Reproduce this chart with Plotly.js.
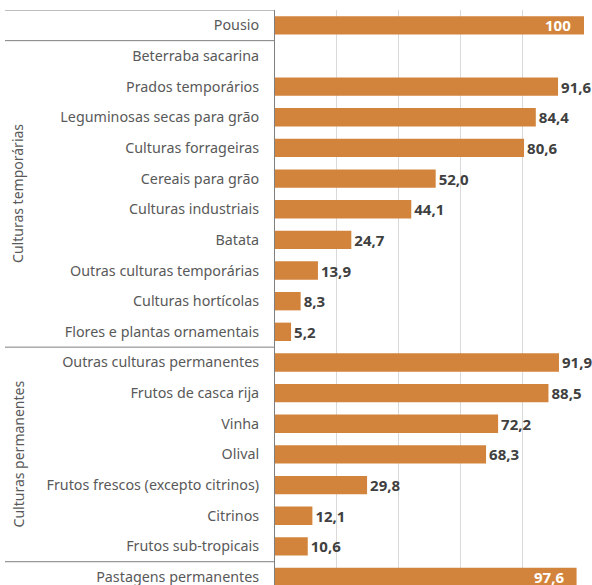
<!DOCTYPE html>
<html>
<head>
<meta charset="utf-8">
<script src="https://cdn.plot.ly/plotly-3.0.1.min.js"></script>
<style>html,body{margin:0;padding:0;background:#fff;}#chart{width:592px;height:585px;}</style>
</head>
<body>
<div id="chart"></div>
<script>
const categories = [
  "Pousio",
  "Beterraba sacarina",
  "Prados temporários",
  "Leguminosas secas para grão",
  "Culturas forrageiras",
  "Cereais para grão",
  "Culturas industriais",
  "Batata",
  "Outras culturas temporárias",
  "Culturas hortícolas",
  "Flores e plantas ornamentais",
  "Outras culturas permanentes",
  "Frutos de casca rija",
  "Vinha",
  "Olival",
  "Frutos frescos (excepto citrinos)",
  "Citrinos",
  "Frutos sub-tropicais",
  "Pastagens permanentes"
];
const values = [100, null, 91.6, 84.4, 80.6, 52.0, 44.1, 24.7, 13.9, 8.3, 5.2, 91.9, 88.5, 72.2, 68.3, 29.8, 12.1, 10.6, 97.6];
const labels = ["100", "", "91,6", "84,4", "80,6", "52,0", "44,1", "24,7", "13,9", "8,3", "5,2", "91,9", "88,5", "72,2", "68,3", "29,8", "12,1", "10,6", "97,6"];
const groupNames = ["", "Culturas temporárias", "Culturas permanentes", ""];
const groupSizes = [1, 10, 7, 1];
const xTicks = [0, 20, 40, 60, 80, 100];

const barColor = "#D3843C";
const insideThreshold = 95;

const textpos = values.map(v => (v !== null && v >= insideThreshold) ? "none" : "outside");

const trace = {
  type: "bar",
  orientation: "h",
  y: categories,
  x: values,
  text: labels,
  textposition: textpos,
  constraintext: "none",
  cliponaxis: false,
  textfont: {family: "Noto Sans, sans-serif", size: 15, color: "#404040", weight: "bold"},
  marker: {color: barColor},
  width: 0.6,
  hoverinfo: "none"
};

const shapes = [];
const annotations = [];
const lineColor = "#7f7f7f";
const leftPx = 5, plotLeft = 275, plotW = 309;
const xLeftPaper = (leftPx - plotLeft) / plotW;
let start = -0.5;
shapes.push({type: "line", xref: "paper", yref: "y", x0: xLeftPaper, x1: 0, y0: start, y1: start, line: {color: lineColor, width: 1}});
groupSizes.forEach((n, i) => {
  const end = start + n;
  if (i < groupSizes.length - 1) {
    shapes.push({type: "line", xref: "paper", yref: "y", x0: xLeftPaper, x1: 0, y0: end, y1: end, line: {color: lineColor, width: 1}});
  }
  if (groupNames[i]) {
    annotations.push({
      xref: "paper", yref: "y", x: (18 - plotLeft) / plotW, y: (start + end) / 2,
      text: groupNames[i], textangle: -90, showarrow: false,
      font: {family: "Noto Sans, sans-serif", size: 14, color: "#595959"},
      xanchor: "center", yanchor: "middle"
    });
  }
  start = end;
});

values.forEach((v, i) => {
  if (v !== null && v >= insideThreshold) {
    annotations.push({
      xref: "x", yref: "y", x: v, y: categories[i], text: "<b>" + labels[i] + "</b>",
      showarrow: false, xanchor: "right", yanchor: "middle", xshift: -11,
      font: {family: "Noto Sans, sans-serif", size: 15, color: "#ffffff"}
    });
  }
});

const layout = {
  width: 592, height: 585,
  margin: {l: 275, r: 8, t: 10, b: 0, pad: 0},
  paper_bgcolor: "#ffffff", plot_bgcolor: "#ffffff",
  showlegend: false,
  bargap: 0.4,
  xaxis: {
    range: [0, 100], tickvals: xTicks, showticklabels: false,
    showgrid: true, gridcolor: "#d9d9d9", gridwidth: 1, zeroline: false,
    showline: false, fixedrange: true
  },
  yaxis: {
    type: "category", categoryorder: "array", categoryarray: categories,
    range: [18.26, -0.5], showgrid: false, zeroline: false,
    showline: true, linecolor: lineColor, linewidth: 1,
    ticks: "", ticklabelstandoff: 12,
    tickfont: {family: "Noto Sans, sans-serif", size: 14.3, color: "#595959"},
    fixedrange: true
  },
  shapes: shapes,
  annotations: annotations
};

Plotly.newPlot("chart", [trace], layout, {displayModeBar: false, staticPlot: true});
</script>
</body>
</html>
